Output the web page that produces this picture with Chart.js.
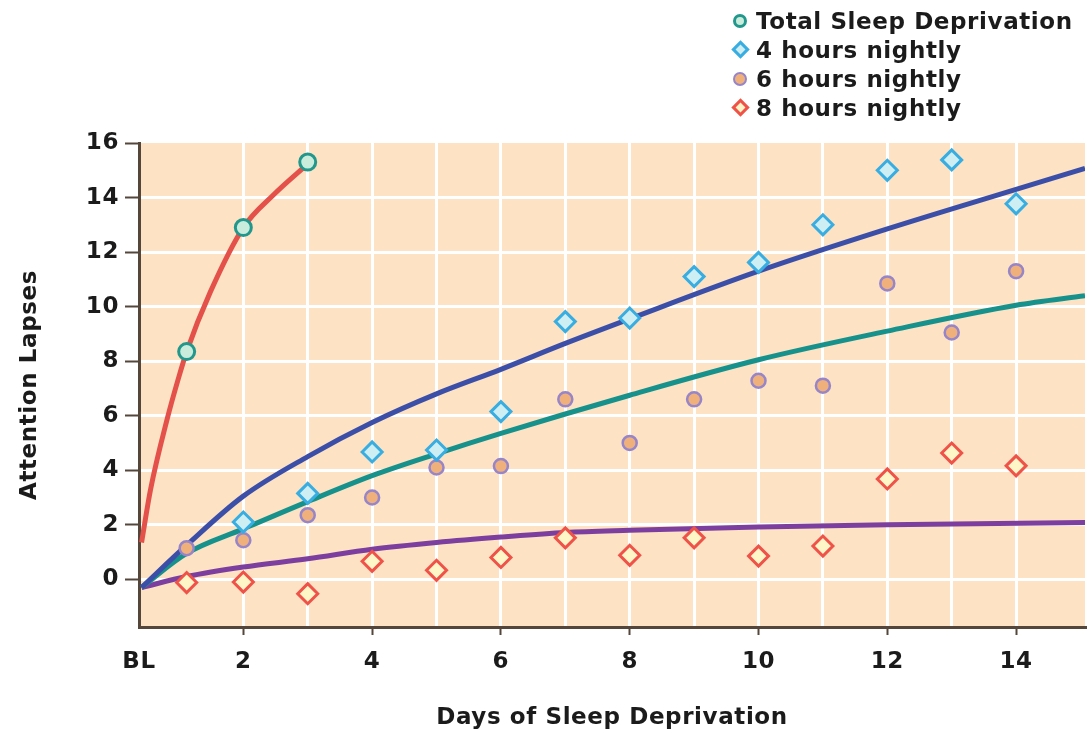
<!DOCTYPE html>
<html>
<head>
<meta charset="utf-8">
<script src="https://cdn.jsdelivr.net/npm/chart.js@4/dist/chart.umd.min.js"></script>
<style>
  html, body { margin: 0; padding: 0; overflow: hidden; background: #fff; font-family: "DejaVu Sans", Verdana, sans-serif; }
  #wrap { position: relative; width: 1089px; height: 733px; overflow: hidden; }
  #wrap canvas { display: block; }
  #legend { position: absolute; left: 730px; top: 6px; }
  .lg-row { height: 29px; display: flex; align-items: center; font-weight: bold; font-size: 23px; letter-spacing: 0.6px; color: #1b1b1b; }
  .lg-mark { width: 20px; height: 22px; position: relative; margin-right: 6px; }
  .lg-mark span { position: absolute; left: 50%; top: 50%; box-sizing: border-box; }
</style>
</head>
<body>
<div id="wrap">
  <canvas id="sleepChart"></canvas>
  <div id="legend"></div>
</div>
<script>
// ── Data ──────────────────────────────────────────────────
const BL_POS = 0.38;                  // where "BL" sits on the day axis
const days   = [1.12, 2, 3, 4, 5, 6, 7, 8, 9, 10, 11, 12, 13, 14];
const xTicks = [2, 3, 4, 5, 6, 7, 8, 9, 10, 11, 12, 13, 14];
const yTicks = [0, 2, 4, 6, 8, 10, 12, 14, 16];

const seriesNames = ['Total Sleep Deprivation', '4 hours nightly', '6 hours nightly', '8 hours nightly'];
const tsdVals = [8.35, 12.9, 15.3];
const h4Vals  = [null, 2.1, 3.15, 4.67, 4.74, 6.15, 9.45, 9.58, 11.1, 11.62, 13.0, 15.0, 15.38, 13.77];
const h6Vals  = [1.14, 1.43, 2.35, 3.0, 4.1, 4.15, 6.6, 5.0, 6.6, 7.28, 7.1, 10.85, 9.05, 11.3];
const h8Vals  = [-0.12, -0.1, -0.53, 0.66, 0.33, 0.8, 1.52, 0.88, 1.52, 0.85, 1.22, 3.68, 4.63, 4.16];

// fitted curves
const tsdFitX = [0.42, 0.56, 0.82, 0.99, 1.12, 1.49, 2, 2.47, 3.01];
const tsdFitY = [1.35, 3.3, 5.9, 7.35, 8.35, 10.55, 12.9, 14.1, 15.25];
const h4FitX  = [0.42, 1.12, 2, 3, 4, 5, 6, 7, 8, 10, 12, 14, 15.07];
const h4FitY  = [-0.3, 1.25, 3.05, 4.5, 5.75, 6.8, 7.7, 8.65, 9.55, 11.3, 12.85, 14.3, 15.07];
const h6FitX  = [0.42, 1.12, 2, 3, 4, 5, 6, 8, 10, 12, 14, 15.07];
const h6FitY  = [-0.3, 0.95, 1.85, 2.85, 3.8, 4.6, 5.35, 6.75, 8.05, 9.1, 10.05, 10.4];
const h8FitX  = [0.42, 1.12, 2, 3, 4, 5, 6, 7, 8, 10, 12, 15.07];
const h8FitY  = [-0.3, 0.1, 0.45, 0.75, 1.1, 1.35, 1.55, 1.72, 1.8, 1.92, 2.0, 2.08];

// ── Styles ───────────────────────────────────────────────
const FONT     = { family: '"DejaVu Sans", Verdana, sans-serif', weight: 'bold', size: 23 };
const AXIS_CLR = '#54463b';
const PEACH    = '#fde2c3';

const markers = [
    { style: 'circle',  radius: 8,   border: 3,   stroke: '#22978c', fill: '#c9ecdc' },
    { style: 'rectRot', radius: 10,  border: 3,   stroke: '#38ade2', fill: '#cdeef3' },
    { style: 'circle',  radius: 7,   border: 2.5, stroke: '#9685c8', fill: '#efb07c' },
    { style: 'rectRot', radius: 10,  border: 3,   stroke: '#ef5248', fill: '#fff6c8' },
];
const fitColors = ['#e4504a', '#3c4fa8', '#16918b', '#7d3f9f'];

const pts = (xs, ys) => xs.map((x, i) => ({ x, y: ys[i] })).filter(p => p.y !== null);

function pointSet(i, vals) {
    const m = markers[i];
    return {
        label: seriesNames[i],
        data: pts(days.slice(0, vals.length), vals),
        showLine: false,
        pointStyle: m.style,
        pointRadius: m.radius,
        pointBorderWidth: m.border,
        pointBorderColor: m.stroke,
        pointBackgroundColor: m.fill,
        order: 1,
    };
}

function fitSet(i, xs, ys) {
    return {
        label: 'fit ' + i,
        data: pts(xs, ys),
        showLine: true,
        borderColor: fitColors[i],
        borderWidth: 5,
        pointRadius: 0,
        cubicInterpolationMode: 'monotone',
        order: 2,
    };
}

// peach plot area, plot running to the right edge, slightly wider text
const plotBg = {
    id: 'plotBg',
    beforeLayout(chart) { chart.ctx.letterSpacing = '0.6px'; },
    afterLayout(chart) {
        const a = chart.chartArea, x = chart.scales.x;
        const right = chart.width - 4;
        if (a.right < right) {
            a.right = right; a.width = right - a.left;
            x.right = right; x.width = right - x.left;
            x.configure();
        }
    },
    beforeDraw(chart) {
        const { ctx, chartArea: a } = chart;
        ctx.letterSpacing = '0.6px';
        ctx.save();
        ctx.fillStyle = PEACH;
        ctx.fillRect(a.left, a.top, a.right - a.left, a.bottom - a.top);
        ctx.restore();
    }
};

new Chart(document.getElementById('sleepChart'), {
    type: 'scatter',
    data: {
        datasets: [
            fitSet(0, tsdFitX, tsdFitY),
            fitSet(1, h4FitX, h4FitY),
            fitSet(2, h6FitX, h6FitY),
            fitSet(3, h8FitX, h8FitY),
            pointSet(0, tsdVals),
            pointSet(1, h4Vals),
            pointSet(2, h6Vals),
            pointSet(3, h8Vals),
        ],
    },
    options: {
        responsive: true,
        maintainAspectRatio: false,
        animation: false,
        layout: { padding: { top: 143, right: 4, left: 0, bottom: 0 } },
        plugins: { legend: { display: false }, tooltip: { enabled: false } },
        scales: {
            x: {
                type: 'linear',
                min: BL_POS,
                max: 15.07,
                afterBuildTicks: s => { s.ticks = [BL_POS, ...xTicks].map(v => ({ value: v })); },
                afterFit: s => { s.height = 106; },
                border: { color: AXIS_CLR, width: 3 },
                grid: {
                    color: c => (c.tick && c.tick.value < 1 ? 'rgba(0,0,0,0)' : '#ffffff'),
                    lineWidth: 3,
                    tickLength: 8,
                    tickWidth: 2,
                    tickColor: c => (c.tick && c.tick.value >= 2 && c.tick.value % 2 === 0 ? AXIS_CLR : 'rgba(0,0,0,0)'),
                },
                ticks: {
                    autoSkip: false,
                    maxRotation: 0,
                    padding: 0,
                    color: '#1b1b1b',
                    font: { ...FONT, lineHeight: 2.33 },   // pushes labels down below the tick marks
                    callback: v => (v < 1 ? 'BL' : (v % 2 === 0 ? String(v) : '')),
                },
                title: { display: true, text: 'Days of Sleep Deprivation', color: '#1b1b1b', font: FONT, padding: { top: 0, bottom: 1 } },
            },
            y: {
                min: -1.75,
                max: 16,
                afterBuildTicks: s => { s.ticks = yTicks.map(v => ({ value: v })); },
                afterFit: s => { s.width = 139; },
                border: { color: AXIS_CLR, width: 3 },
                grid: {
                    color: c => (c.tick && c.tick.value === 16 ? 'rgba(0,0,0,0)' : '#ffffff'),
                    lineWidth: 3,
                    tickLength: 14,
                    tickWidth: 2,
                    tickColor: AXIS_CLR,
                },
                ticks: { padding: 6, color: '#1b1b1b', font: FONT },
                title: { display: true, text: 'Attention Lapses', color: '#1b1b1b', font: FONT, padding: { top: 16, bottom: 0 } },
            },
        },
    },
    plugins: [plotBg],
});

// ── Legend (HTML, from the same series lists) ─────────────
document.getElementById('legend').innerHTML = seriesNames.map((name, i) => {
    const m = markers[i];
    const mark = m.style === 'circle'
        ? `<span style="width:14px;height:14px;margin:-7px 0 0 -7px;border-radius:50%;border:${m.border}px solid ${m.stroke};background:${m.fill}"></span>`
        : `<span style="width:13px;height:13px;margin:-6.5px 0 0 -6.5px;transform:rotate(45deg);border:${m.border}px solid ${m.stroke};background:${m.fill}"></span>`;
    return `<div class="lg-row"><div class="lg-mark">${mark}</div>${name}</div>`;
}).join('');
</script>
</body>
</html>
